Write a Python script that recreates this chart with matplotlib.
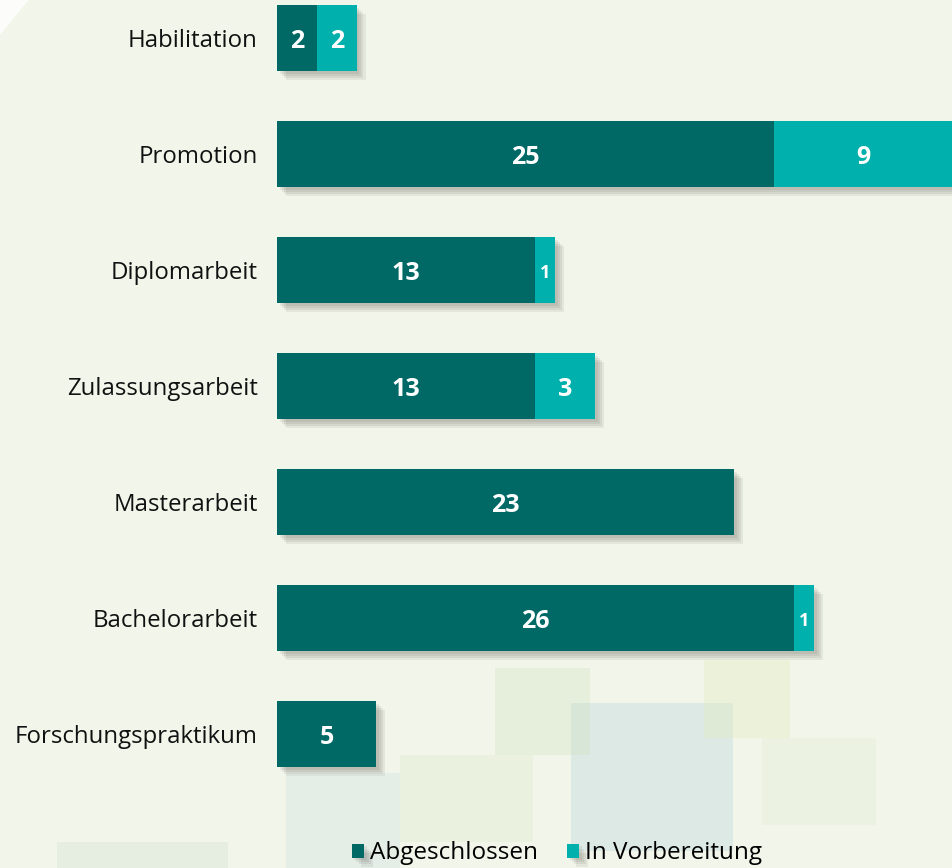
import matplotlib.pyplot as plt
import matplotlib.patheffects as pe
from matplotlib.patches import Rectangle, Polygon
import numpy as np

plt.rcParams['font.family'] = ['Open Sans', 'DejaVu Sans']

categories = ['Habilitation', 'Promotion', 'Diplomarbeit', 'Zulassungsarbeit',
              'Masterarbeit', 'Bachelorarbeit', 'Forschungspraktikum']
abgeschlossen = [2, 25, 13, 13, 23, 26, 5]
in_vorbereitung = [2, 9, 1, 3, 0, 1, 0]

dark = '#006966'
light = '#00b0ac'

fig = plt.figure(figsize=(9.52, 8.68), dpi=100)
fig.patch.set_facecolor('#f2f6ea')

# decorative background: pale translucent blocks like the slide template
deco = [
    (0.60, 0.02, 0.17, 0.17, '#b5d2da', 0.35),
    (0.52, 0.13, 0.10, 0.10, '#d2e3c0', 0.35),
    (0.74, 0.15, 0.09, 0.09, '#e3ecbc', 0.35),
    (0.80, 0.05, 0.12, 0.10, '#dfebd0', 0.30),
    (0.30, 0.00, 0.12, 0.11, '#c6dbde', 0.30),
    (0.42, 0.03, 0.14, 0.10, '#dce9c8', 0.35),
    (0.06, 0.00, 0.18, 0.03, '#cfe1cf', 0.35),
]
for x0, y0, w, h, c, a in deco:
    fig.patches.append(Rectangle((x0, y0), w, h, transform=fig.transFigure,
                                 facecolor=c, alpha=a, edgecolor='none', zorder=0))
fig.patches.append(Polygon([(0, 1), (0.03, 1), (0, 0.96)], closed=True,
                           transform=fig.transFigure, facecolor='white',
                           alpha=0.8, edgecolor='none', zorder=0))

ax = fig.add_axes([0.291, 0.1014, 0.71, 0.8986])
ax.set_facecolor('none')

y = np.arange(len(categories))
# soft drop shadow, built from a few faint offset copies
shadow = [pe.SimplePatchShadow(offset=(o, -o), shadow_rgbFace='#333333', alpha=0.08)
          for o in (2, 3.5, 5, 6.5)] + [pe.Normal()]
b1 = ax.barh(y, abgeschlossen, height=0.57, color=dark, label='Abgeschlossen',
             path_effects=shadow)
b2 = ax.barh(y, in_vorbereitung, left=abgeschlossen, height=0.57, color=light,
             label='In Vorbereitung', path_effects=shadow)

for i, (a, v) in enumerate(zip(abgeschlossen, in_vorbereitung)):
    ax.text(a / 2, i + 0.03, str(a), color='white', fontsize=18, fontweight='bold',
            ha='center', va='center')
    if v > 0:
        ax.text(a + v / 2, i + 0.03, str(v), color='white',
                fontsize=18 if v > 1 else 13, fontweight='bold',
                ha='center', va='center')

ax.set_xlim(0, 34)
ax.set_ylim(6.397, -0.3276)
ax.set_yticks(y)
ax.set_yticklabels(categories, fontsize=17.3, color='#111111')
ax.tick_params(axis='y', length=0, pad=14)
ax.set_xticks([])
for s in ax.spines.values():
    s.set_visible(False)

fig.legend(handles=[b1, b2], loc='lower center', bbox_to_anchor=(0.585, -0.022),
           ncol=2, frameon=False, fontsize=17.5, handlelength=0.5,
           handleheight=0.5, handletextpad=0.25, columnspacing=1.2)

fig.savefig('out.png', dpi=100, facecolor=fig.get_facecolor())
